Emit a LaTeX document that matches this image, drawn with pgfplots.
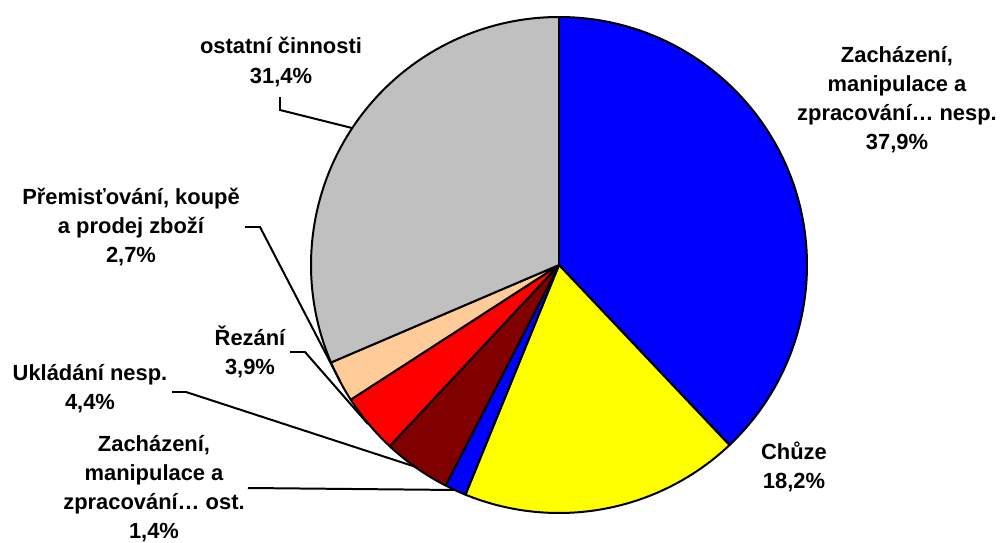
\documentclass[border=0pt]{standalone}
\usepackage{pgfplots}
\pgfplotsset{compat=1.18}
\usepackage{fontspec}
\setmainfont{Liberation Sans}
\definecolor{sBlue}{RGB}{0,0,255}
\definecolor{sYellow}{RGB}{255,255,0}
\definecolor{sDarkRed}{RGB}{128,0,0}
\definecolor{sRed}{RGB}{255,0,0}
\definecolor{sPeach}{RGB}{255,204,153}
\definecolor{sGrey}{RGB}{192,192,192}
\begin{document}
\begin{tikzpicture}
% data (percent)
\def\vA{37.9}\def\vB{18.2}\def\vC{1.4}\def\vD{4.4}\def\vE{3.9}\def\vF{2.7}\def\vG{31.4}
\pgfmathsetmacro\k{360/(\vA+\vB+\vC+\vD+\vE+\vF+\vG)}
\pgfmathsetmacro\aA{90}
\pgfmathsetmacro\aB{\aA-\vA*\k}
\pgfmathsetmacro\aC{\aB-\vB*\k}
\pgfmathsetmacro\aD{\aC-\vC*\k}
\pgfmathsetmacro\aE{\aD-\vD*\k}
\pgfmathsetmacro\aF{\aE-\vE*\k}
\pgfmathsetmacro\aG{\aF-\vF*\k}
\pgfmathsetmacro\aH{\aG-\vG*\k}
\def\R{37.2mm}
\begin{axis}[scale only axis, width=15cm, height=8.115cm,
  xmin=0, xmax=1000, ymin=0, ymax=541, hide axis, clip=false]
\path (axis cs:0,0) rectangle (axis cs:1000,541);
\tikzset{wedge/.style={draw=black, line width=0.85pt, line join=round}}
\filldraw[wedge, fill=sBlue] (axis cs:559,276) -- ++(\aA:\R) arc[start angle=\aA, end angle=\aB, radius=\R] -- cycle;
\filldraw[wedge, fill=sYellow] (axis cs:559,276) -- ++(\aB:\R) arc[start angle=\aB, end angle=\aC, radius=\R] -- cycle;
\filldraw[wedge, fill=sBlue] (axis cs:559,276) -- ++(\aC:\R) arc[start angle=\aC, end angle=\aD, radius=\R] -- cycle;
\filldraw[wedge, fill=sDarkRed] (axis cs:559,276) -- ++(\aD:\R) arc[start angle=\aD, end angle=\aE, radius=\R] -- cycle;
\filldraw[wedge, fill=sRed] (axis cs:559,276) -- ++(\aE:\R) arc[start angle=\aE, end angle=\aF, radius=\R] -- cycle;
\filldraw[wedge, fill=sPeach] (axis cs:559,276) -- ++(\aF:\R) arc[start angle=\aF, end angle=\aG, radius=\R] -- cycle;
\filldraw[wedge, fill=sGrey] (axis cs:559,276) -- ++(\aG:\R) arc[start angle=\aG, end angle=\aH, radius=\R] -- cycle;
% leader lines
\draw[black, line width=0.85pt] (axis cs:280,444) -- (axis cs:280,431) -- (axis cs:352,413);
\draw[black, line width=0.85pt] (axis cs:245,314) -- (axis cs:260,314) -- (axis cs:340,160);
\draw[black, line width=0.85pt] (axis cs:290,189) -- (axis cs:305,189) -- (axis cs:368,117);
\draw[black, line width=0.85pt] (axis cs:172,149) -- (axis cs:186,149) -- (axis cs:416,74);
\draw[black, line width=0.85pt] (axis cs:248,53) -- (axis cs:456,51);
% labels
\tikzset{lbl/.style={align=center, inner sep=0pt, font=\bfseries\fontsize{9.35}{12.4}\selectfont}}
\node[lbl] at (axis cs:897,441) {Zacházení,\\manipulace a\\zpracování… nesp.\\37,9\%};
\node[lbl] at (axis cs:794,74) {Chůze\\18,2\%};
\node[lbl] at (axis cs:154,52) {Zacházení,\\manipulace a\\zpracování… ost.\\1,4\%};
\node[lbl] at (axis cs:90,152) {Ukládání nesp.\\4,4\%};
\node[lbl] at (axis cs:250,189) {Řezání\\3,9\%};
\node[lbl] at (axis cs:131,314) {Přemisťování, koupě\\a prodej zboží\\2,7\%};
\node[lbl] at (axis cs:281,479) {ostatní činnosti\\31,4\%};
\end{axis}
\end{tikzpicture}
\end{document}
